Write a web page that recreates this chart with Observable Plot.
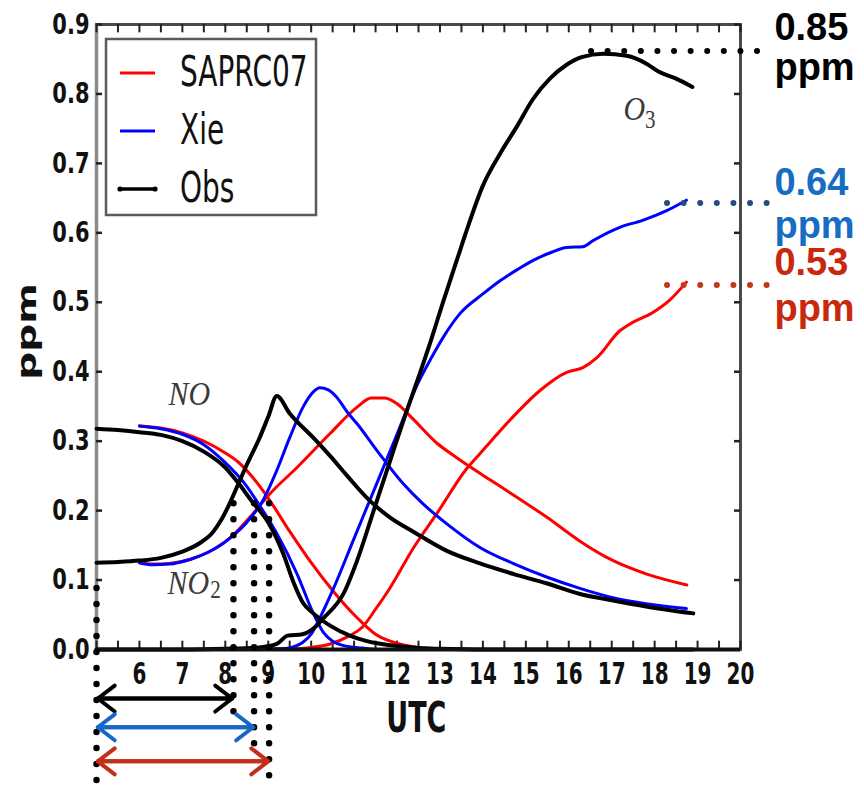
<!DOCTYPE html>
<html>
<head>
<meta charset="utf-8">
<script src="https://cdn.jsdelivr.net/npm/d3@7"></script>
<script src="https://cdn.jsdelivr.net/npm/@observablehq/plot@0.6"></script>
<style>
html, body { margin: 0; padding: 0; background: #fff; }
#chart { width: 864px; height: 788px; }
</style>
</head>
<body>
<div id="chart"></div>
<script>
// ---------------- data (ppm vs UTC hour) ----------------
const seriesNames = ["SAPRC07", "Xie", "Obs"];
const seriesColors = ["#ff0000", "#0000ff", "#000000"];

// SAPRC07 model
const sapNO_t  = [6.0,6.5,7.0,7.5,8.0,8.3,8.65,9.0,9.5,10.0,10.5,11.0,11.2,11.5,12.0,12.5,13.0,14.0,16.0,18.75];
const sapNO    = [0.322,0.319,0.312,0.300,0.283,0.270,0.247,0.218,0.170,0.125,0.085,0.050,0.038,0.022,0.009,0.003,0.001,0,0,0];
const sapNO2_t = [6.0,6.3,6.7,7.2,7.6,8.0,8.3,8.65,9.05,9.67,10.44,11.07,11.4,11.7,12.0,12.37,12.93,13.3,13.7,14.2,14.7,15.5,16.26,17.0,17.8,18.75];
const sapNO2   = [0.125,0.123,0.124,0.130,0.140,0.155,0.172,0.196,0.225,0.262,0.311,0.349,0.362,0.362,0.354,0.332,0.297,0.280,0.263,0.243,0.223,0.190,0.156,0.129,0.109,0.093];
const sapO3_t  = [6.0,8.0,9.5,10.0,10.44,10.9,11.19,11.5,11.84,12.37,12.93,13.63,13.93,14.7,15.33,15.95,16.33,16.65,17.19,17.49,17.95,18.35,18.74];
const sapO3    = [0,0,0.001,0.003,0.008,0.020,0.032,0.058,0.089,0.145,0.196,0.261,0.282,0.335,0.373,0.399,0.406,0.420,0.459,0.471,0.485,0.503,0.529];

// Xie model
const xieNO_t  = [6.0,6.5,7.0,7.5,7.95,8.5,8.74,9.2,9.67,10.05,10.28,10.5,10.74,11.2,11.6,13.0,16.0,18.74];
const xieNO    = [0.322,0.318,0.310,0.295,0.272,0.235,0.213,0.167,0.109,0.052,0.025,0.012,0.006,0.002,0,0,0,0];
const xieNO2_t = [6.0,6.3,6.7,7.19,7.6,7.95,8.2,8.5,8.88,9.2,9.5,9.81,10.05,10.2,10.4,10.6,10.84,11.07,11.55,12.14,12.6,13.16,13.93,14.7,15.5,16.26,17.0,17.8,18.74];
const xieNO2   = [0.125,0.122,0.123,0.130,0.140,0.153,0.165,0.183,0.215,0.258,0.305,0.349,0.371,0.377,0.374,0.363,0.342,0.325,0.285,0.239,0.210,0.181,0.147,0.124,0.104,0.088,0.075,0.066,0.059];
const xieO3_t  = [6.0,8.0,9.3,9.6,9.8,10.0,10.2,10.5,11.0,11.5,12.0,12.5,12.8,13.1,13.47,14.0,14.4,14.8,15.16,15.6,15.95,16.33,16.57,17.19,17.72,18.28,18.74];
const xieO3    = [0,0,0.001,0.004,0.010,0.022,0.045,0.085,0.160,0.235,0.310,0.385,0.420,0.452,0.484,0.512,0.531,0.547,0.560,0.572,0.579,0.580,0.589,0.608,0.618,0.632,0.647];

// Observations
const obsNO_t  = [5.0,5.5,6.0,6.5,7.0,7.5,8.0,8.3,8.6,9.0,9.35,9.6,9.8,10.05,10.45,10.9,11.3,11.85,12.5,13.0,14.0,15.0,16.0,17.0,18.0,18.9];
const obsNO    = [0.318,0.316,0.313,0.309,0.300,0.285,0.262,0.240,0.215,0.183,0.138,0.095,0.068,0.052,0.034,0.020,0.012,0.006,0.002,0.001,0,0,0,0,0,0];
const obsNO2_t = [5.0,5.5,6.0,6.5,7.0,7.4,7.7,7.9,8.1,8.3,8.5,8.8,9.0,9.2,9.5,10.05,10.45,10.84,11.37,11.84,12.37,13.16,13.93,14.7,15.5,16.26,17.0,17.8,18.9];
const obsNO2   = [0.125,0.126,0.128,0.132,0.141,0.153,0.168,0.186,0.210,0.238,0.266,0.305,0.335,0.365,0.340,0.305,0.278,0.250,0.214,0.190,0.170,0.142,0.124,0.109,0.095,0.080,0.071,0.062,0.052];
const obsO3_t  = [5.0,6.0,7.0,8.0,8.8,9.2,9.45,9.8,10.05,10.3,10.75,11.07,11.45,11.84,12.2,12.5,12.8,13.07,13.4,13.63,14.0,14.4,14.8,15.16,15.56,15.95,16.3,16.8,17.35,17.8,18.1,18.5,18.88];
const obsO3    = [0,0,0,0.001,0.003,0.008,0.020,0.022,0.030,0.046,0.080,0.128,0.199,0.272,0.339,0.392,0.447,0.500,0.562,0.605,0.668,0.714,0.754,0.792,0.822,0.842,0.853,0.858,0.855,0.844,0.832,0.822,0.810];

// axis ticks
const xTickVals = [6,7,8,9,10,11,12,13,14,15,16,17,18,19,20];
const xTickLabels = ["6","7","8","9","10","11","12","13","14","15","16","17","18","19","20"];
const yTickVals = [0,0.1,0.2,0.3,0.4,0.5,0.6,0.7,0.8,0.9];
const yTickLabels = ["0.0","0.1","0.2","0.3","0.4","0.5","0.6","0.7","0.8","0.9"];
const xMinorTicks = [5,5.5,6,6.5,7,7.5,8,8.5,9,9.5,10,10.5,11,11.5,12,12.5,13,13.5,14,14.5,15,15.5,16,16.5,17,17.5,18,18.5,19,19.5,20];

// final-value annotations
const endLabels = ["0.85", "0.64", "0.53"];
const endColors = ["#000000", "#176cc4", "#c8290e"];
const dotColors = ["#000000", "#1f4e80", "#c0391b"];
const arrowColors = ["#000000", "#1668c4", "#c3301a"];

// ---------------- build ----------------
const rows = (t, v) => t.map((h, i) => ({t: h, v: v[i]}));
const line = (t, v, color, w) => Plot.line(rows(t, v), {x: "t", y: "v", stroke: color, strokeWidth: w, curve: "monotone-x", strokeLinejoin: "round"});

const tickFont = {fontFamily: "DejaVu Sans", fontWeight: "bold", fill: "#111"};
const annFont = {fontFamily: "Liberation Sans, Arial, sans-serif", fontWeight: "bold", fontSize: 38, textAnchor: "start"};
const dotted = {strokeWidth: 6, strokeDasharray: "0 16.6", strokeLinecap: "round"};
const vdotted = {stroke: "#000", strokeWidth: 6.5, strokeDasharray: "0 16", strokeLinecap: "round"};
const tag = name => ({ariaLabel: () => name});

const plot = Plot.plot({
  width: 864, height: 788,
  marginLeft: 96, marginRight: 124, marginTop: 24, marginBottom: 139,
  x: {domain: [5, 20], axis: null},
  y: {domain: [0, 0.9], axis: null},
  style: {background: "white", fontFamily: "DejaVu Sans", overflow: "visible"},
  marks: [
    // frame
    Plot.frame({stroke: "#4a4a4a", strokeWidth: 3}),
    Plot.ruleX([5], {y1: 0, y2: 0.9, stroke: "#8c8c8c", strokeWidth: 3.5}),
    // ticks (inward)
    Plot.ruleX(xMinorTicks, {x: d => d, y1: 0, y2: 0.012, stroke: "#222", strokeWidth: 2}),
    Plot.ruleX(xMinorTicks, {x: d => d, y1: 0.9, y2: 0.888, stroke: "#222", strokeWidth: 2}),
    Plot.ruleY(yTickVals, {y: d => d, x1: 5, x2: 5.14, stroke: "#222", strokeWidth: 2.5}),
    Plot.ruleY(yTickVals, {y: d => d, x1: 19.86, x2: 20, stroke: "#222", strokeWidth: 2.5}),
    // model + observation curves
    line(sapNO_t, sapNO, seriesColors[0], 3),
    line(sapNO2_t, sapNO2, seriesColors[0], 3),
    line(sapO3_t, sapO3, seriesColors[0], 3),
    line(xieNO_t, xieNO, seriesColors[1], 3),
    line(xieNO2_t, xieNO2, seriesColors[1], 3),
    line(xieO3_t, xieO3, seriesColors[1], 3),
    line(obsNO_t, obsNO, seriesColors[2], 4),
    line(obsNO2_t, obsNO2, seriesColors[2], 4),
    line(obsO3_t, obsO3, seriesColors[2], 4),
    Plot.ruleY([0], {x1: 5, x2: 20, stroke: "#111", strokeWidth: 4}),
    // species labels
    Plot.text(["NO"], {x: 7.16, y: 0.368, text: d => d, fontFamily: "Liberation Serif", fontStyle: "italic", fontSize: 30, fill: "#3a3a3a", ...tag("species")}),
    Plot.text(["NO"], {x: 7.14, y: 0.096, text: d => d, fontFamily: "Liberation Serif", fontStyle: "italic", fontSize: 30, fill: "#3a3a3a", ...tag("species")}),
    Plot.text(["2"], {x: 7.77, y: 0.085, text: d => d, fontFamily: "Liberation Serif", fontSize: 21, fill: "#3a3a3a", ...tag("species")}),
    Plot.text(["O"], {x: 17.53, y: 0.778, text: d => d, fontFamily: "Liberation Serif", fontStyle: "italic", fontSize: 30, fill: "#3a3a3a", ...tag("species")}),
    Plot.text(["3"], {x: 17.9, y: 0.762, text: d => d, fontFamily: "Liberation Serif", fontSize: 21, fill: "#3a3a3a", ...tag("species")}),
    // tick labels
    Plot.text(yTickVals, {x: 5, y: d => d, dx: -7, text: (d, i) => yTickLabels[i], textAnchor: "end", fontSize: 21, ...tickFont, ...tag("ytick")}),
    Plot.text(xTickVals, {x: d => d, y: 0, dy: 24, text: (d, i) => xTickLabels[i], fontSize: 20, ...tickFont, ...tag("xtick")}),
    Plot.text(["UTC"], {x: 12.45, y: 0, dy: 69, text: d => d, fontSize: 27, ...tickFont, ...tag("xtick")}),
    Plot.text(["ppm"], {x: 5, y: 0.458, dx: -69, text: d => d, rotate: -90, fontSize: 26, ...tickFont, ...tag("ylabel")}),
    // horizontal dotted guides to final values
    Plot.ruleY([0.862], {x1: 16.53, x2: 20.72, stroke: dotColors[0], ...dotted}),
    Plot.ruleY([0.643], {x1: 18.3, x2: 21.0, stroke: dotColors[1], ...dotted}),
    Plot.ruleY([0.525], {x1: 18.3, x2: 20.65, stroke: dotColors[2], ...dotted}),
    // final-value texts
    Plot.text([endLabels[0]], {x: 20.79, y: 0.8957, text: d => d, fill: endColors[0], ...annFont}),
    Plot.text(["ppm"], {x: 20.79, y: 0.837, text: d => d, fill: endColors[0], ...annFont}),
    Plot.text([endLabels[1]], {x: 20.79, y: 0.6714, text: d => d, fill: endColors[1], ...annFont}),
    Plot.text(["ppm"], {x: 20.79, y: 0.6094, text: d => d, fill: endColors[1], ...annFont}),
    Plot.text([endLabels[2]], {x: 20.79, y: 0.5562, text: d => d, fill: endColors[2], ...annFont}),
    Plot.text(["ppm"], {x: 20.79, y: 0.4899, text: d => d, fill: endColors[2], ...annFont}),
    // vertical dotted guides below the axis
    Plot.ruleX([5], {y1: 0.088, y2: -0.2, ...vdotted}),
    Plot.ruleX([8.19], {y1: 0.21, y2: -0.095, ...vdotted}),
    Plot.ruleX([8.67], {y1: 0.21, y2: -0.14, ...vdotted}),
    Plot.ruleX([9.02], {y1: 0.21, y2: -0.2, ...vdotted}),
    // double-headed arrows (start time windows)
    ...[[8.16, -0.0706], [8.65, -0.112], [9.0, -0.161]].flatMap(([xe, yy], k) => [
      Plot.arrow([0], {x1: 5.03, x2: xe, y1: yy, y2: yy, stroke: arrowColors[k], strokeWidth: 4, headLength: 8, headAngle: 75, strokeLinecap: "round", strokeLinejoin: "round"}),
      Plot.arrow([0], {x1: xe, x2: 5.03, y1: yy, y2: yy, stroke: arrowColors[k], strokeWidth: 4, headLength: 8, headAngle: 75, strokeLinecap: "round", strokeLinejoin: "round"})
    ])
  ]
});

// legend box (upper left, inside the axes)
const svg = d3.select(plot);
const lg = svg.append("g").attr("aria-label", "legend");
lg.append("rect").attr("x", 106).attr("y", 39).attr("width", 210).attr("height", 176)
  .attr("fill", "white").attr("stroke", "#5a5a5a").attr("stroke-width", 2.5);
const rowsY = [73, 131, 189];
seriesNames.forEach((name, i) => {
  lg.append("line").attr("x1", 120).attr("x2", 155).attr("y1", rowsY[i]).attr("y2", rowsY[i])
    .attr("stroke", seriesColors[i]).attr("stroke-width", i === 2 ? 3.5 : 3);
  if (i === 2) {
    [120, 155].forEach(cx => lg.append("circle").attr("cx", cx).attr("cy", rowsY[i]).attr("r", 2.6).attr("fill", "#000"));
  }
  lg.append("text").attr("transform", `translate(180,${rowsY[i] - 2}) scale(1,1.5)`)
    .attr("text-anchor", "start").attr("dy", "0.35em")
    .attr("font-family", "DejaVu Sans").attr("font-size", 28)
    .attr("fill", "#111").text(name);
});

document.getElementById("chart").appendChild(plot);

// stretch selected texts about their own centre (wrap each in a scaled group)
function stretch(label, sx, sy) {
  plot.querySelectorAll(`text[aria-label="${label}"]`).forEach(t => {
    const g = document.createElementNS("http://www.w3.org/2000/svg", "g");
    t.parentNode.insertBefore(g, t);
    g.appendChild(t);
    const bb = g.getBBox();
    const cx = bb.x + bb.width / 2, cy = bb.y + bb.height / 2;
    g.setAttribute("transform", `translate(${cx},${cy}) scale(${sx},${sy}) translate(${-cx},${-cy})`);
  });
}
stretch("ytick", 1, 1.35);
stretch("xtick", 1, 1.55);
stretch("ylabel", 1, 1.5);
stretch("species", 1, 1.15);
</script>
</body>
</html>
